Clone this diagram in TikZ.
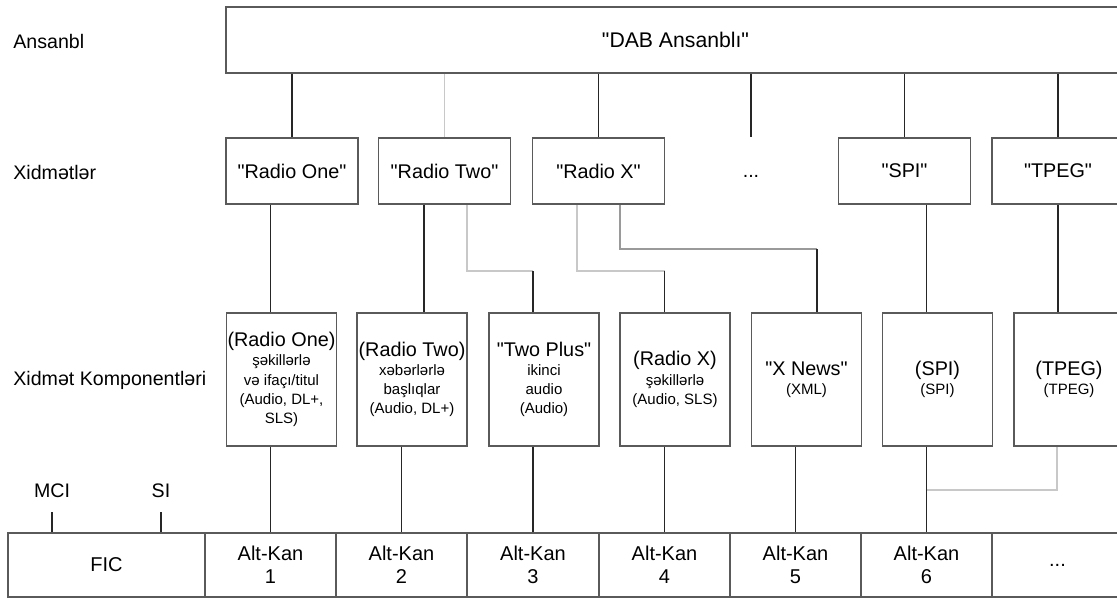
\documentclass[tikz,border=0pt]{standalone}
\usepackage{fontspec}
\setmainfont{Liberation Sans}

\definecolor{boxgray}{HTML}{5A5A5A}
\definecolor{faintgray}{HTML}{C8C8C8}
\definecolor{midgray}{HTML}{9A9A9A}

\newcommand{\cnote}{\fontsize{7.5}{9.5}\selectfont}
\newcommand{\qt}[1]{\textquotedbl#1\textquotedbl}

\tikzset{
	box/.style={draw=boxgray, line width=0.9pt, inner sep=0pt, align=center, font=\fontsize{9.9}{9.6}\selectfont},
	svcbox/.style={box, minimum width=66pt, minimum height=33pt},
	compbox/.style={box, minimum width=55pt, minimum height=66.5pt},
	chanbox/.style={box, minimum width=65.5pt, minimum height=32pt, font=\fontsize{10}{11.5}\selectfont},
	rowlabel/.style={anchor=west, inner sep=0pt, font=\fontsize{9.8}{11}\selectfont},
	ticklabel/.style={inner xsep=0pt, inner ysep=7pt, font=\fontsize{9.8}{11}\selectfont},
	link/.style={line width=0.8pt, draw=black!85},
	faint/.style={line width=0.8pt, draw=faintgray},
	mid/.style={line width=0.8pt, draw=midgray}
}

\begin{document}
\begin{tikzpicture}[x=0.5pt, y=-0.5pt]
		\useasboundingbox (0,0) rectangle (1117,599);

		% Row names on the left
		\node[rowlabel] (lens) at (13,41) {Ansanbl};
		\node[rowlabel] (lsvc) at (13,172) {Xidmətlər};
		\node[rowlabel] (lcomp) at (13,380) {Xidmət Komponentləri};

		% The ensemble
		\node[box, minimum width=449.5pt, minimum height=33pt, font=\fontsize{10.6}{11}\selectfont] (ens) at (675.5,40) {\qt{DAB Ansanblı}};

		% Services
		\node[svcbox] (one) at (292,171) {\qt{Radio One}};
		\node[svcbox] (two) at (444.5,171) {\qt{Radio Two}};
		\node[svcbox] (rx) at (598.5,171) {\qt{Radio X}};
		\node[inner sep=0pt, font=\fontsize{9.8}{11}\selectfont] (dots) at (751,176) {...};
		\node[svcbox] (spi) at (904.5,171) {\qt{SPI}};
		\node[svcbox] (tpeg) at (1058,171) {\qt{TPEG}};

		% Service components
		\node[compbox] (comp1) at (281.5,379.5) {(Radio One)\\\cnote şəkillərlə\\\cnote və ifaçı/titul\\\cnote (Audio, DL+,\\\cnote SLS)};
		\node[compbox] (comp2) at (412,379.5) {(Radio Two)\\\cnote xəbərlərlə\\\cnote başlıqlar\\\cnote (Audio, DL+)};
		\node[compbox] (comp3) at (544,379.5) {\qt{Two Plus}\\\cnote ikinci\\\cnote audio\\\cnote (Audio)};
		\node[compbox] (comp4) at (675,379.5) {(Radio X)\\\cnote şəkillərlə\\\cnote (Audio, SLS)};
		\node[compbox] (comp5) at (806.5,379.5) {\qt{X News}\\\cnote (XML)};
		\node[compbox] (comp6) at (937.5,379.5) {(SPI)\\\cnote (SPI)};
		\node[compbox] (comp7) at (1069,379.5) {(TPEG)\\\cnote (TPEG)};

		% Channels
		\node[chanbox, minimum width=98.5pt] (fic) at (106.5,565) {FIC};
		\node[chanbox] (ch1) at (270.5,565) {Alt-Kan\\1};
		\node[chanbox] (ch2) at (401.5,565) {Alt-Kan\\2};
		\node[chanbox] (ch3) at (533,565) {Alt-Kan\\3};
		\node[chanbox] (ch4) at (664.5,565) {Alt-Kan\\4};
		\node[chanbox] (ch5) at (795.5,565) {Alt-Kan\\5};
		\node[chanbox] (ch6) at (926.5,565) {Alt-Kan\\6};
		\node[chanbox] (ch7) at (1057.5,565) {...};

		\node[ticklabel] (mci) at (52,491) {MCI};
		\node[ticklabel] (si) at (161,491) {SI};

		% Bend points and columns of the connectors
		\coordinate (c2) at (424,0);
		\coordinate (c5) at (817,0);
		\coordinate (b3) at (467,271);
		\coordinate (b4) at (577,271);
		\coordinate (b5) at (620,249);
		\coordinate (b7) at (1057,490);

		% Ensemble to services
		\foreach \s in {one, rx, spi, tpeg}
			\draw[link] (ens.south -| \s.north) -- (\s.north);
		\draw[faint] (ens.south -| two.north) -- (two.north);
		\draw[link] (ens.south -| dots.north) -- (dots.north |- one.north);

		% Services to components
		\draw[link] (one.south -| ch1.north) -- (comp1.north -| ch1.north);
		\draw[link] (two.south -| c2) -- (comp2.north -| c2);
		\draw[faint] (two.south -| b3) -- (b3) -- (b3 -| ch3.north);
		\draw[link] (b3 -| ch3.north) -- (comp3.north -| ch3.north);
		\draw[faint] (rx.south -| b4) -- (b4) -- (b4 -| ch4.north);
		\draw[link] (b4 -| ch4.north) -- (comp4.north -| ch4.north);
		\draw[mid] (rx.south -| b5) -- (b5) -- (b5 -| c5);
		\draw[link] (b5 -| c5) -- (comp5.north -| c5);
		\draw[link] (spi.south -| ch6.north) -- (comp6.north -| ch6.north);
		\draw[link] (tpeg.south) -- (comp7.north -| tpeg.south);

		% Components to channels
		\foreach \i in {1,...,6}
			\draw[link] (comp\i.south -| ch\i.north) -- (ch\i.north);
		\draw[faint] (comp7.south -| b7) -- (b7) -- (b7 -| ch6.north);

		\draw[link] (mci.south) -- (mci.south |- fic.north);
		\draw[link] (si.south) -- (si.south |- fic.north);

	\end{tikzpicture}
\end{document}
